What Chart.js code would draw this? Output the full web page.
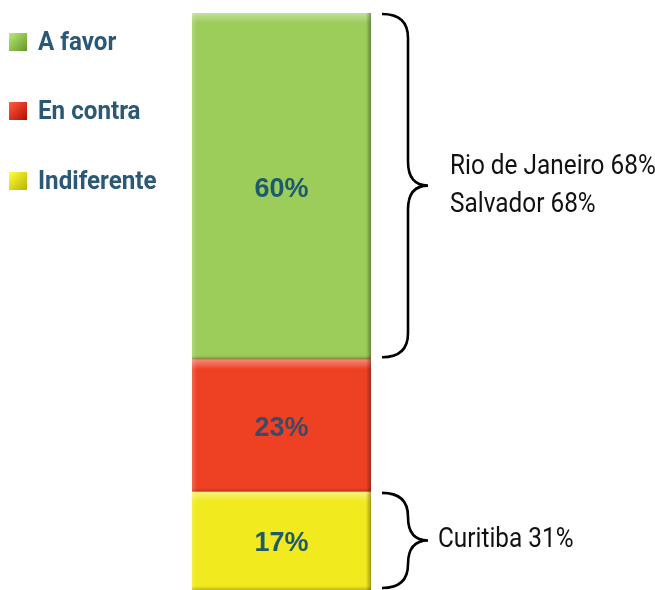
<!DOCTYPE html>
<html>
<head>
<meta charset="utf-8">
<script src="https://cdn.jsdelivr.net/npm/chart.js@4/dist/chart.umd.min.js"></script>
<style>
  html, body { margin: 0; padding: 0; background: #fff; }
  #chart { display: block; }
</style>
</head>
<body>
<canvas id="chart" width="655" height="590"></canvas>
<script>
// legend order, top of the stack first
const seriesLabels = ["A favor", "En contra", "Indiferente"];
const seriesValues = [60, 23, 17];
const seriesColors = ["#9ccc5a", "#ee4123", "#f1ea1f"];
const valueLabelColors = ["#1d5a6b", "#3b4a67", "#1d5a6b"];
const categories = [""];

// braces on the right: value range covered and text beside it
const braceRanges = [[40, 100], [0, 17]];
const braceTexts = [["Rio de Janeiro 68%", "Salvador 68%"], ["Curitiba 31%"]];

// condensed look: Roboto squeezed horizontally
function condensedText(ctx, text, x, y, sx) {
  ctx.save();
  ctx.translate(x, y);
  ctx.scale(sx, 1);
  ctx.fillText(text, 0, 0);
  ctx.restore();
}

// bottom of stack is the first dataset, so build in reverse
const datasets = seriesLabels.map((label, i) => ({
  label,
  data: [seriesValues[i]],
  backgroundColor: seriesColors[i],
  borderWidth: 0,
  barPercentage: 1,
  categoryPercentage: 1,
  _idx: i,
})).reverse();

function shade(hex, amt) {
  const n = parseInt(hex.slice(1), 16);
  const f = c => Math.max(0, Math.min(255, Math.round(c + amt)));
  return `rgb(${f(n >> 16)},${f((n >> 8) & 255)},${f(n & 255)})`;
}

const bevelPlugin = {
  id: "bevel",
  afterDatasetsDraw(chart) {
    const ctx = chart.ctx;
    chart.data.datasets.forEach((ds, di) => {
      chart.getDatasetMeta(di).data.forEach(bar => {
        const { x, y, base, width } = bar.getProps(["x", "y", "base", "width"], true);
        const l = x - width / 2, r = x + width / 2, t = y, b = base;
        ctx.save();
        let g = ctx.createLinearGradient(0, t, 0, t + 10);
        g.addColorStop(0, "rgba(255,255,255,0.4)");
        g.addColorStop(1, "rgba(255,255,255,0)");
        ctx.fillStyle = g;
        ctx.fillRect(l, t, width, 10);
        g = ctx.createLinearGradient(r - 5, 0, r, 0);
        g.addColorStop(0, "rgba(0,0,0,0)");
        g.addColorStop(1, "rgba(0,0,0,0.35)");
        ctx.fillStyle = g;
        ctx.fillRect(r - 5, t, 5, b - t);
        g = ctx.createLinearGradient(0, b - 4, 0, b);
        g.addColorStop(0, "rgba(0,0,0,0)");
        g.addColorStop(1, "rgba(0,0,0,0.22)");
        ctx.fillStyle = g;
        ctx.fillRect(l, b - 4, width, 4);
        g = ctx.createLinearGradient(l, 0, l + 5, 0);
        g.addColorStop(0, "rgba(255,255,255,0.2)");
        g.addColorStop(1, "rgba(255,255,255,0)");
        ctx.fillStyle = g;
        ctx.fillRect(l, t, 5, b - t);

        // value label
        const i = ds._idx;
        ctx.fillStyle = valueLabelColors[i];
        ctx.font = 'bold 27px "Liberation Sans", Arial, sans-serif';
        ctx.textAlign = "center";
        ctx.textBaseline = "middle";
        ctx.fillText(seriesValues[i] + "%", x, (t + b) / 2 + 3);
        ctx.restore();
      });
    });
  }
};

const sideLegendPlugin = {
  id: "sideLegend",
  afterDraw(chart) {
    const ctx = chart.ctx;
    const rows = [42, 111, 181];
    ctx.save();
    seriesLabels.forEach((label, i) => {
      const cy = rows[i];
      const c = seriesColors[i];
      const g = ctx.createLinearGradient(9, cy - 9, 27, cy + 9);
      g.addColorStop(0, shade(c, 30));
      g.addColorStop(1, shade(c, -55));
      ctx.fillStyle = g;
      ctx.fillRect(9, cy - 9, 18, 18);
      ctx.fillStyle = "#2b5876";
      ctx.font = "bold 26px Roboto, sans-serif";
      ctx.textAlign = "left";
      ctx.textBaseline = "middle";
      condensedText(ctx, label, 38, cy + 1, 0.93);
    });
    ctx.restore();
  }
};

function drawBrace(ctx, xl, xv, xt, top, bottom, r) {
  const mid = (top + bottom) / 2;
  ctx.beginPath();
  ctx.moveTo(xl, top);
  ctx.quadraticCurveTo(xv, top, xv, top + r);
  ctx.lineTo(xv, mid - r);
  ctx.quadraticCurveTo(xv, mid, xt, mid);
  ctx.quadraticCurveTo(xv, mid, xv, mid + r);
  ctx.lineTo(xv, bottom - r);
  ctx.quadraticCurveTo(xv, bottom, xl, bottom);
  ctx.stroke();
}

const bracePlugin = {
  id: "braces",
  afterDraw(chart) {
    const ctx = chart.ctx;
    const yScale = chart.scales.y;
    const bar = chart.getDatasetMeta(0).data[0];
    const right = bar.x + bar.width / 2;
    ctx.save();
    ctx.strokeStyle = "#000";
    ctx.lineWidth = 2.6;
    braceRanges.forEach(([from, to], i) => {
      const top = yScale.getPixelForValue(to) + 1;
      const bottom = yScale.getPixelForValue(from) - 2;
      const r = Math.min(24, (bottom - top) / 4);
      drawBrace(ctx, right + 11, right + 37, right + 57, top, bottom, r);
      const lines = braceTexts[i];
      const mid = (top + bottom) / 2;
      ctx.fillStyle = "#111";
      ctx.font = "28px Roboto, sans-serif";
      ctx.textAlign = "left";
      ctx.textBaseline = "middle";
      const lh = 38;
      lines.forEach((t, k) => {
        condensedText(ctx, t, right + (lines.length > 1 ? 79 : 67), mid + (k - (lines.length - 1) / 2) * lh, 0.87);
      });
    });
    ctx.restore();
  }
};

new Chart(document.getElementById("chart"), {
  type: "bar",
  data: { labels: categories, datasets },
  options: {
    responsive: false,
    animation: false,
    layout: { padding: { left: 192, right: 284, top: 13, bottom: 0 } },
    scales: {
      x: { stacked: true, display: false },
      y: { stacked: true, display: false, min: 0, max: 100 },
    },
    plugins: { legend: { display: false }, tooltip: { enabled: false } },
  },
  plugins: [bevelPlugin, sideLegendPlugin, bracePlugin],
});
</script>
</body>
</html>
